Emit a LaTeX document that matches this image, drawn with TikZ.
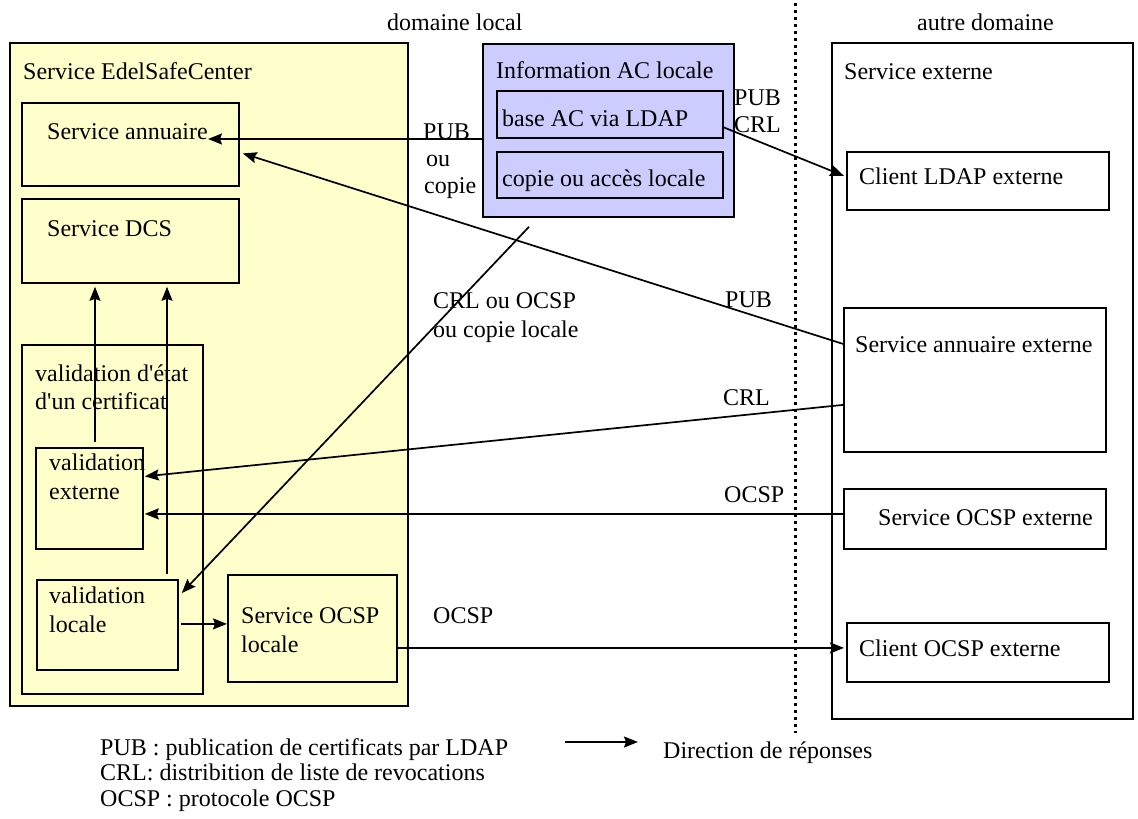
\documentclass[tikz,border=0pt]{standalone}
\usepackage{fontspec}
\setmainfont{Liberation Serif}
\usetikzlibrary{arrows.meta,calc}
\definecolor{paleyellow}{HTML}{FFFFCC}
\definecolor{palelavender}{HTML}{CCCCFF}
% straight apostrophe, taken as a glyph so the TeX mapping leaves it alone
\newcommand{\sq}{\XeTeXglyph\XeTeXglyphindex "quotesingle"\relax}

\begin{document}
\begin{tikzpicture}[x=1pt,y=-1pt,
  font=\fontsize{24}{27}\selectfont,
  box/.style={draw, line width=1.8pt, inner sep=0pt, anchor=north west},
  ybox/.style={box, fill=paleyellow},
  lbox/.style={box, fill=palelavender},
  wbox/.style={box, fill=white},
  txt/.style={anchor=base west, inner sep=0pt},
  arr/.style={line width=1.7pt, -{Stealth[length=14pt,width=11pt,inset=2pt]}},
  sep/.style={line width=3pt, dash pattern=on 3pt off 4pt}]
\useasboundingbox[fill=white] (0,0) rectangle (1138,819);

% domain titles
\node[txt] (dloc) at (387,30) {domaine local};
\node[txt] (dext) at (917,30) {autre domaine};

% local service block
\node[ybox, minimum width=398pt, minimum height=663pt] (esc) at (9,42) {};
\node[txt] (esc-t) at (23,79) {Service EdelSafeCenter};
\node[ybox, minimum width=217pt, minimum height=83pt] (ann) at (21,102) {};
\node[txt] (ann-t) at (47,139) {Service annuaire};
\node[ybox, minimum width=217pt, minimum height=84pt] (dcs) at (21,198) {};
\node[txt] (dcs-t) at (47,236) {Service DCS};
\node[ybox, minimum width=181pt, minimum height=349pt] (etat) at (21,344) {};
\node[txt] (etat-t1) at (35,381) {validation d\sq état};
\node[txt] (etat-t2) at (35,409) {d\sq un certificat};
\node[ybox, minimum width=107pt, minimum height=101pt] (vext) at (35,447) {};
\node[txt] (vext-t1) at (49,470) {validation};
\node[txt] (vext-t2) at (49,499) {externe};
\node[ybox, minimum width=141pt, minimum height=90pt] (vloc) at (36,579) {};
\node[txt] (vloc-t1) at (49,603) {validation};
\node[txt] (vloc-t2) at (49,632) {locale};
\node[ybox, minimum width=169pt, minimum height=107pt] (ocspl) at (227,574) {};
\node[txt] (ocspl-t1) at (241,623) {Service OCSP};
\node[txt] (ocspl-t2) at (241,652) {locale};

% local CA information
\node[lbox, minimum width=251pt, minimum height=173pt] (info) at (482,43) {};
\node[txt] (info-t) at (496,78) {Information AC locale};
\node[lbox, minimum width=226pt, minimum height=47pt] (base) at (496,90) {};
\node[txt] (base-t) at (502,126) {base AC via LDAP};
\node[lbox, minimum width=226pt, minimum height=46pt] (copie) at (496,151) {};
\node[txt] (copie-t) at (502,186) {copie ou accès locale};

% external services
\node[wbox, minimum width=301pt, minimum height=676pt] (ext) at (831,42) {};
\node[txt] (ext-t) at (844,79) {Service externe};
\node[wbox, minimum width=262pt, minimum height=58pt] (cldap) at (846,151) {};
\node[txt] (cldap-t) at (859,184) {Client LDAP externe};
\node[wbox, minimum width=262pt, minimum height=144pt] (annext) at (843,307) {};
\node[txt] (annext-t) at (855,352) {Service annuaire externe};
\node[wbox, minimum width=262pt, minimum height=60pt] (ocspext) at (843,488) {};
\node[txt] (ocspext-t) at (878,525) {Service OCSP externe};
\node[wbox, minimum width=262pt, minimum height=59pt] (cocsp) at (846,622) {};
\node[txt] (cocsp-t) at (859,656) {Client OCSP externe};

% domain separator
\coordinate (sepTop) at (795,3);
\coordinate (sepBot) at (795,733);
\draw[sep] (sepTop) -- (sepBot);

% connectors
\draw[arr] (info.west |- ann-t.base) -- (ann-t.base east);
\draw[arr] ($(base.east)+(0,13)$) -- ($(cldap.west)+(-2,-5)$);
\draw[arr] ($(annext.west)+(0,-36)$) -- ($(ann.east)+(3,9)$);
\draw[arr] ($(annext.west)+(0,25)$) -- ($(vext.east)+(1,-22)$);
\coordinate (ocspIn) at ($(ocspext.west)+(0,-5)$);
\draw[arr] (ocspIn) -- ($(ocspIn -| vext.east)+(1,0)$);
\draw[arr] ($(info.south west)+(47,9)$) -- ($(vloc.north east)+(3,14)$);
\draw[arr] ($(vext.north west)+(60,-5)$) -- ($(dcs.south west)+(74,3)$);
\draw[arr] ($(vloc.north west)+(131,-5)$) -- ($(dcs.south west)+(146,3)$);
\draw[arr] ($(vloc.east)+(2,-1)$) -- ($(ocspl.west)+(0,-4.5)$);
\coordinate (ocspOut) at ($(ocspl.east)+(0,19.5)$);
\draw[arr] (ocspOut) -- ($(ocspOut -| cocsp.west)+(-2,0)$);

% connector labels
\node[txt] (l-pub1) at (423,139) {PUB};
\node[txt] (l-ou1) at (426,166) {ou};
\node[txt] (l-cop1) at (424,193) {copie};
\node[txt] (l-pub2) at (734,105) {PUB};
\node[txt] (l-crl2) at (734,132) {CRL};
\node[txt] (l-pub3) at (725,307) {PUB};
\node[txt] (l-crl3) at (723,405) {CRL};
\node[txt] (l-ocsp3) at (724,502) {OCSP};
\node[txt] (l-diag1) at (433,308) {CRL ou OCSP};
\node[txt] (l-diag2) at (433,337) {ou copie locale};
\node[txt] (l-ocsp4) at (433,623) {OCSP};

% legend
\node[txt] (leg1) at (100,755) {PUB : publication de certificats par LDAP};
\node[txt] (leg2) at (100,780.5) {CRL: distribition de liste de revocations};
\node[txt] (leg3) at (100,806) {OCSP : protocole OCSP};
\coordinate (legA) at (565,742);
\coordinate (legB) at (638,742);
\draw[arr] (legA) -- (legB);
\node[txt] (leg4) at (663,758) {Direction de réponses};
\end{tikzpicture}
\end{document}
